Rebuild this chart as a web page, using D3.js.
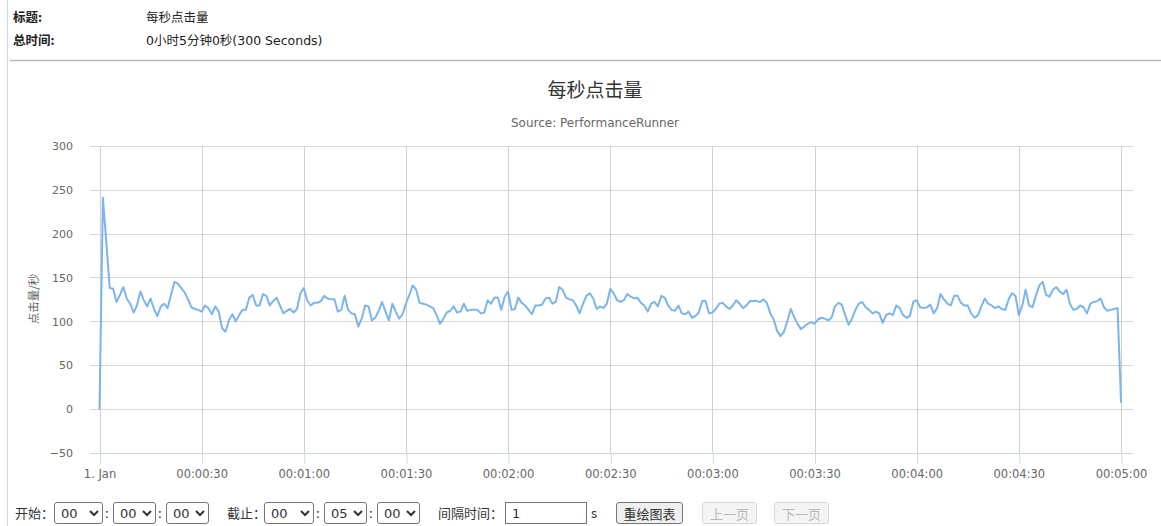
<!DOCTYPE html>
<html>
<head>
<meta charset="utf-8">
<script src="https://cdn.jsdelivr.net/npm/d3@7/dist/d3.min.js"></script>
<style>
  html, body { margin: 0; padding: 0; background: #fff; }
  body { width: 1161px; height: 526px; position: relative; overflow: hidden;
         font-family: "DejaVu Sans", "Noto Sans CJK SC", sans-serif; }
  #chart { position: absolute; left: 0; top: 0; }
  .ctl { position: absolute; font-family: "DejaVu Sans", "Noto Sans CJK SC", sans-serif; font-size: 13px; color: #333; }
  .lbl { position: absolute; font-size: 13px; color: #333; line-height: 22px; top: 502px; font-family: "Noto Sans CJK SC", "DejaVu Sans", sans-serif; }
  select.ctl { top: 502px; height: 22px; padding: 0 2px; border: 1px solid #767676; border-radius: 3px; background: #fff; font-size: 13px; }
  input.ctl { top: 502px; height: 22px; box-sizing: border-box; border: 1px solid #767676; padding: 0 6px; font-size: 13px; }
  button.ctl { top: 502px; height: 22px; box-sizing: border-box; border: 1px solid #767676; border-radius: 3px; background: #efefef; font-size: 13px; padding: 0; font-family: "Noto Sans CJK SC", sans-serif; }
  button.ctl[disabled] { border-color: #d9d9d9; background: #f4f4f4; color: #b8b8b8; }
</style>
</head>
<body>
<svg id="chart" width="1161" height="526"></svg>
<script>
// ---------- data ----------
const headerLabels = ["标题:", "总时间:"];
const headerValues = ["每秒点击量", "0小时5分钟0秒(300 Seconds)"];
const chartTitle = "每秒点击量";
const chartSubtitle = "Source: PerformanceRunner";
const yAxisTitle = "点击量/秒";
const yTicks = [-50, 0, 50, 100, 150, 200, 250, 300];
const xTickSeconds = [0, 30, 60, 90, 120, 150, 180, 210, 240, 270, 300];
const xTickLabels = ["1. Jan", "00:00:30", "00:01:00", "00:01:30", "00:02:00", "00:02:30",
                     "00:03:00", "00:03:30", "00:04:00", "00:04:30", "00:05:00"];
// hits per second, one value per second from 0 to 300
const hitsPerSecond = [
  0, 241, 190, 138, 137, 122, 130, 139, 126, 120,
  110, 118, 134, 124, 117, 126, 114, 106, 117, 120,
  115, 130, 145, 143, 138, 133, 125, 116, 114, 113,
  111, 118, 115, 108, 117, 111, 92, 88, 101, 108,
  100, 107, 113, 113, 127, 130, 118, 118, 131, 129,
  118, 123, 127, 118, 109, 112, 114, 110, 114, 132,
  138, 124, 118, 121, 121, 123, 129, 126, 125, 125,
  111, 113, 129, 113, 109, 108, 94, 103, 118, 117,
  101, 104, 112, 122, 111, 101, 120, 111, 103, 108,
  120, 130, 141, 136, 121, 120, 119, 117, 115, 107,
  97, 103, 110, 112, 117, 110, 111, 120, 112, 113,
  113, 113, 109, 110, 124, 120, 127, 127, 113, 128,
  134, 113, 114, 127, 121, 118, 113, 108, 118, 118,
  119, 126, 127, 120, 122, 139, 136, 127, 125, 124,
  118, 109, 120, 129, 132, 126, 114, 117, 115, 120,
  137, 132, 124, 122, 124, 131, 128, 126, 127, 121,
  118, 111, 120, 122, 117, 129, 127, 118, 113, 112,
  118, 109, 108, 111, 104, 106, 110, 123, 123, 109,
  110, 114, 120, 121, 117, 114, 118, 124, 120, 115,
  118, 123, 123, 123, 122, 125, 121, 109, 102, 89,
  83, 88, 100, 114, 105, 97, 91, 94, 97, 99,
  97, 102, 104, 103, 101, 104, 117, 121, 119, 107,
  96, 103, 113, 120, 122, 116, 113, 109, 111, 109,
  98, 107, 109, 107, 118, 115, 107, 104, 106, 122,
  124, 116, 115, 116, 119, 109, 115, 131, 125, 120,
  118, 129, 129, 121, 118, 118, 109, 104, 107, 117,
  126, 120, 118, 115, 117, 114, 113, 125, 132, 129,
  107, 118, 136, 118, 116, 129, 141, 145, 130, 128,
  136, 139, 134, 131, 136, 120, 113, 114, 118, 116,
  109, 120, 122, 123, 126, 116, 112, 113, 114, 115,
  8
];
const startLabel = "开始：";
const endLabel = "截止：";
const intervalLabel = "间隔时间：";
const intervalValue = "1";
const intervalUnit = "s";
const selectValues = ["00", "00", "00", "00", "05", "00"];
const buttonLabels = ["重绘图表", "上一页", "下一页"];

// ---------- chart ----------
const svg = d3.select("#chart");
const plot = { left: 90, right: 1133, top: 146, bottom: 452.7 };
const x = d3.scaleLinear().domain([0, 300]).range([99.5, 1121]);
const y = d3.scaleLinear().domain([-50, 300]).range([plot.bottom, plot.top]);

// page frame
svg.append("line").attr("x1", 7.5).attr("x2", 7.5).attr("y1", 0).attr("y2", 526)
  .attr("stroke", "#d4d4d4").attr("stroke-width", 1);
svg.append("line").attr("x1", 10).attr("x2", 1161).attr("y1", 60.5).attr("y2", 60.5)
  .attr("stroke", "#b8b8b8").attr("stroke-width", 1.5);

// header
const hdr = svg.append("g").attr("font-size", "12.5px").attr("fill", "#222");
headerLabels.forEach((t, i) => {
  hdr.append("text").attr("x", 13).attr("y", 22 + i * 22.5).attr("font-weight", "bold")
    .attr("font-family", "'Noto Sans CJK SC', sans-serif").text(t);
  hdr.append("text").attr("x", 146).attr("y", 22 + i * 22.5)
    .attr("font-family", "'DejaVu Sans', 'Noto Sans CJK SC', sans-serif").text(headerValues[i]);
});

// titles
svg.append("text").attr("x", 595).attr("y", 97).attr("text-anchor", "middle")
  .attr("font-size", "19px").attr("fill", "#333")
  .attr("font-family", "'Noto Sans CJK SC', sans-serif").text(chartTitle);
svg.append("text").attr("x", 595).attr("y", 127).attr("text-anchor", "middle")
  .attr("font-size", "12px").attr("fill", "#666")
  .attr("font-family", "'DejaVu Sans', sans-serif").text(chartSubtitle);

// horizontal gridlines
const gy = svg.append("g");
gy.selectAll("line").data(yTicks.filter(d => d !== -50)).join("line")
  .attr("x1", plot.left).attr("x2", plot.right)
  .attr("y1", d => Math.round(y(d)) + 0.5).attr("y2", d => Math.round(y(d)) + 0.5)
  .attr("stroke", "#d8d8d8").attr("stroke-width", 1);

// vertical gridlines
const gx = svg.append("g");
gx.selectAll("line").data(xTickSeconds).join("line")
  .attr("x1", d => Math.round(x(d)) + 0.5).attr("x2", d => Math.round(x(d)) + 0.5)
  .attr("y1", plot.top).attr("y2", plot.bottom)
  .attr("stroke", "#d0d0d0").attr("stroke-width", 1);

// x axis (line + ticks + labels) via d3.axisBottom
const xAxis = d3.axisBottom(x).tickValues(xTickSeconds)
  .tickFormat((d, i) => xTickLabels[i]).tickSizeInner(10).tickSizeOuter(0).tickPadding(6);
const xa = svg.append("g").attr("transform", `translate(0,${Math.round(plot.bottom) + 0.5})`).call(xAxis);
xa.select(".domain").remove();
xa.selectAll(".tick line").attr("stroke", "#ccd6eb").attr("transform", "translate(0.5,0)");
xa.selectAll(".tick text").attr("fill", "#666").attr("font-size", "11.5px")
  .attr("font-family", "'DejaVu Sans', sans-serif");
svg.append("line").attr("x1", plot.left).attr("x2", plot.right)
  .attr("y1", Math.round(plot.bottom) + 0.5).attr("y2", Math.round(plot.bottom) + 0.5)
  .attr("stroke", "#ccd6eb").attr("stroke-width", 1);

// y axis labels via d3.axisLeft
const yAxis = d3.axisLeft(y).tickValues(yTicks).tickSize(0).tickPadding(0);
const ya = svg.append("g").attr("transform", "translate(73,0)").call(yAxis);
ya.select(".domain").remove();
ya.selectAll(".tick text").attr("fill", "#666").attr("font-size", "11px")
  .attr("font-family", "'DejaVu Sans', sans-serif").attr("dy", "0.35em");

// y axis title
svg.append("text").attr("transform", "translate(38,299) rotate(-90)")
  .attr("text-anchor", "middle").attr("font-size", "11.5px").attr("fill", "#666")
  .attr("font-family", "'Noto Sans CJK SC', sans-serif").text(yAxisTitle);

// series line
const line = d3.line().x((d, i) => x(i)).y(d => y(d));
svg.append("path").datum(hitsPerSecond).attr("d", line)
  .attr("fill", "none").attr("stroke", "#7cb5ec").attr("stroke-width", 2)
  .attr("stroke-linejoin", "round").attr("stroke-linecap", "round");

// ---------- bottom controls ----------
const body = d3.select("body");
function label(txt, left) { body.append("span").attr("class", "lbl").style("left", left + "px").text(txt); }
function sel(val, left, width) {
  const s = body.append("select").attr("class", "ctl").style("left", left + "px").style("width", width + "px");
  s.append("option").text(val);
}
label(startLabel, 15);
sel(selectValues[0], 54, 49);
label(":", 105);
sel(selectValues[1], 113, 43);
label(":", 158);
sel(selectValues[2], 166, 43);
label(endLabel, 227);
sel(selectValues[3], 264, 50);
label(":", 316);
sel(selectValues[4], 324, 43);
label(":", 369);
sel(selectValues[5], 377, 43);
label(intervalLabel, 438);
body.append("input").attr("class", "ctl").attr("type", "text").attr("value", intervalValue)
  .style("left", "505px").style("width", "82px");
label(intervalUnit, 591);
body.append("button").attr("class", "ctl").style("left", "616px").style("width", "67px").text(buttonLabels[0]);
body.append("button").attr("class", "ctl").attr("disabled", true).style("left", "702px").style("width", "55px").text(buttonLabels[1]);
body.append("button").attr("class", "ctl").attr("disabled", true).style("left", "774px").style("width", "55px").text(buttonLabels[2]);
</script>
</body>
</html>
